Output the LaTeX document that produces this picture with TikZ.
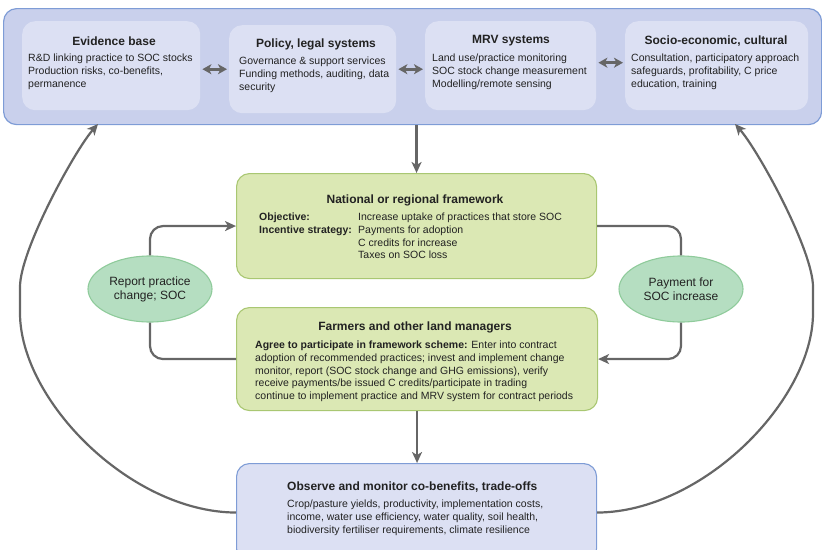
\documentclass[tikz,border=0pt]{standalone}
\usepackage{fontspec}
\setmainfont{Liberation Sans}
\usetikzlibrary{arrows.meta,shapes.geometric}
\definecolor{bannerfill}{HTML}{C9D0EC}
\definecolor{bannerdraw}{HTML}{7E9CD6}
\definecolor{innerfill}{HTML}{DCE0F3}
\definecolor{greenfill}{HTML}{DBE8B4}
\definecolor{greendraw}{HTML}{A9C772}
\definecolor{ellfill}{HTML}{B5DEC1}
\definecolor{elldraw}{HTML}{8FCB9B}
\definecolor{conncol}{HTML}{666666}
\definecolor{txt}{HTML}{222222}
\begin{document}
\begin{tikzpicture}[x=1pt,y=-1pt,
  box/.style={rectangle, rounded corners=13pt, inner sep=0pt, anchor=north west},
  innerbox/.style={box, fill=innerfill, draw=none},
  greenbox/.style={box, fill=greenfill, draw=greendraw, line width=1.1pt},
  ell/.style={ellipse, fill=ellfill, draw=elldraw, line width=1.1pt, inner sep=0pt,
    minimum width=124pt, minimum height=66pt, align=center, text=txt,
    font=\fontsize{12}{14}\selectfont},
  ttl/.style={inner sep=0pt, text=txt, font=\fontsize{12}{14}\selectfont\bfseries},
  body/.style={inner sep=0pt, anchor=north west, align=left, text=txt,
    font=\fontsize{10.5}{12.6}\selectfont},
  conn/.style={draw=conncol, line width=2.2pt, rounded corners=13pt},
  tip/.style={-{Stealth[length=11pt,width=10pt,inset=3pt]}},
  dbl/.style={draw=conncol, line width=2.6pt,
    {Stealth[length=9pt,width=10pt,inset=2.5pt]}-{Stealth[length=9pt,width=10pt,inset=2.5pt]},
    shorten <=2pt, shorten >=2pt}]
\useasboundingbox (0,0) rectangle (822,549);
\clip (0,0) rectangle (822,549);

% top banner
\node[box, fill=bannerfill, draw=bannerdraw, line width=1.2pt,
  minimum width=818pt, minimum height=116pt] (banner) at (3,8) {};
\node[innerbox, minimum width=178pt, minimum height=89pt] (ev) at (22,21) {};
\node[innerbox, minimum width=167pt, minimum height=88pt] (pol) at (229,25) {};
\node[innerbox, minimum width=171pt, minimum height=89pt] (mrv) at (425,21) {};
\node[innerbox, minimum width=183pt, minimum height=89pt] (soc) at (625,21) {};

\node[ttl] (evT) at (114,41) {Evidence base};
\node[body] (evB) at (28,54) {R\&D linking practice to SOC stocks\\Production risks, co-benefits,\\permanence};
\node[ttl] (polT) at (316,44) {Policy, legal systems};
\node[body] (polB) at (239,57) {Governance \& support services\\Funding methods, auditing, data\\security};
\node[ttl] (mrvT) at (511,41) {MRV systems};
\node[body] (mrvB) at (432,54) {Land use/practice monitoring\\SOC stock change measurement\\Modelling/remote sensing};
\node[ttl] (socT) at (716,41) {Socio-economic, cultural};
\node[body] (socB) at (631,54) {Consultation, participatory approach\\safeguards, profitability, C price\\education, training};

\draw[dbl] (ev.east |- pol.west) -- (pol.west);
\draw[dbl] (pol.east) -- (pol.east -| mrv.west);
\draw[dbl] ([yshift=3pt]mrv.east) -- ([yshift=3pt]mrv.east -| soc.west);

% national framework
\node[greenbox, minimum width=360pt, minimum height=105pt] (nat) at (236,173) {};
\node[ttl] (natT) at (415,200) {National or regional framework};
\node[body] (natB) at (259,213) {\makebox[99pt][l]{\bfseries Objective:}Increase uptake of practices that store SOC\\
\makebox[99pt][l]{\bfseries Incentive strategy:}Payments for adoption\\
\hspace*{99pt}C credits for increase\\
\hspace*{99pt}Taxes on SOC loss};

% farmers
\node[greenbox, minimum width=361pt, minimum height=103pt] (farm) at (236,307) {};
\node[ttl] (farmT) at (415,327) {Farmers and other land managers};
\node[body] (farmB) at (255,341) {\textbf{Agree to participate in framework scheme:} Enter into contract\\
adoption of recommended practices; invest and implement change\\
monitor, report (SOC stock change and GHG emissions), verify\\
receive payments/be issued C credits/participate in trading\\
continue to implement practice and MRV system for contract periods};

% observe
\node[box, fill=innerfill, draw=bannerdraw, line width=1.1pt,
  minimum width=360pt, minimum height=98pt] (obs) at (236,463) {};
\node[ttl, anchor=west] (obsT) at (287,487) {Observe and monitor co-benefits, trade-offs};
\node[body] (obsB) at (287,500) {Crop/pasture yields, productivity, implementation costs,\\
income, water use efficiency, water quality, soil health,\\
biodiversity fertiliser requirements, climate resilience};

% ellipses
\node[ell] (rep) at (150,289) {Report practice\\change; SOC};
\node[ell] (pay) at (681,289) {Payment for\\SOC increase};

% connectors
\draw[conn, tip] (nat.north |- banner.south) -- (nat.north);
\draw[conn, tip] (farm.south) -- (farm.south |- obs.north);
\draw[conn] (farm.west) -| (rep.south);
\draw[conn, tip] (rep.north) |- (nat.west);
\draw[conn] (nat.east) -| (pay.north);
\draw[conn, tip] (pay.south) |- (farm.east);

\coordinate (lt) at (98,124);
\coordinate (rt) at (735,124);
\draw[conn, tip] (obs.west) .. controls (130,512) and (20,400) .. (20,300)
  .. controls (20,250) and (75,150) .. (lt);
\draw[conn, tip] (obs.east) .. controls (703,512) and (813,400) .. (813,300)
  .. controls (813,250) and (758,150) .. (rt);
\end{tikzpicture}
\end{document}
